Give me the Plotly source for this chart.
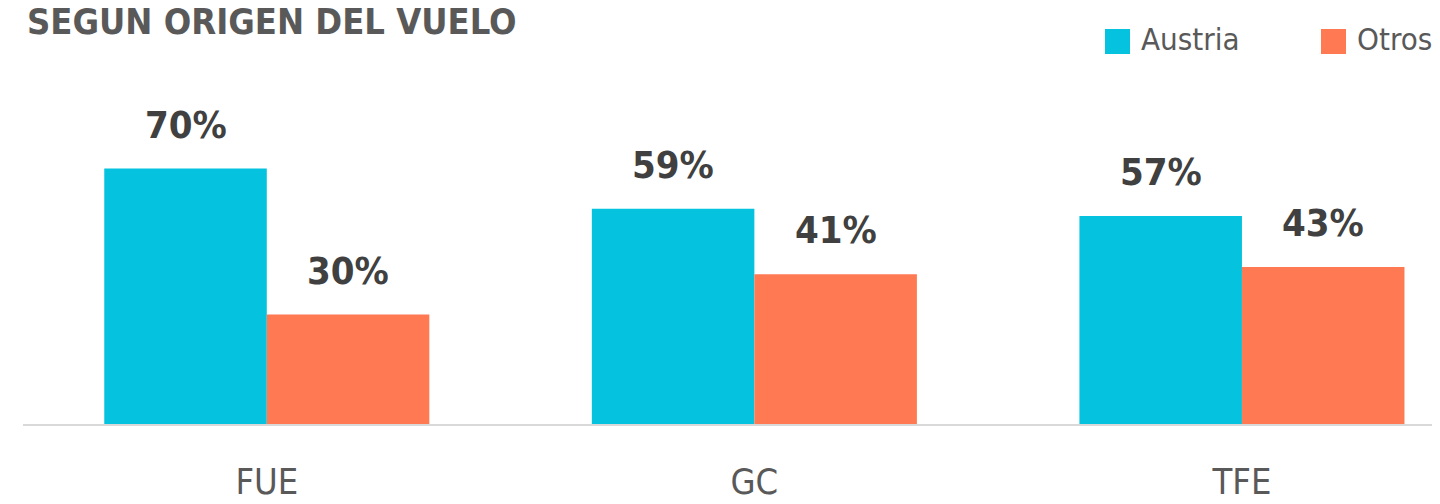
import plotly.graph_objects as go

categories = ["FUE", "GC", "TFE"]
austria = [70, 59, 57]
otros = [30, 41, 43]
series_names = ["Austria", "Otros"]
colors = ["#05C3DE", "#FF7953"]
title_text = "SEGUN ORIGEN DEL VUELO"

FONT = "DejaVu Sans Condensed, Liberation Sans Narrow, sans-serif"

W, H = 1440, 504
L, R, T, B = 15, 0, 40, 88
PW, PH = W - L - R, H - T - B


def px(fx):
    return (fx - L) / PW


def py(fy):
    return (H - B - fy) / PH


fig = go.Figure()
for name, vals, col in zip(series_names, [austria, otros], colors):
    fig.add_trace(go.Bar(x=categories, y=vals, name=name, marker=dict(color=col, line=dict(width=0)),
                         showlegend=False))

# value labels
annotations = []
for j, vals in enumerate([austria, otros]):
    off = -1/6 if j == 0 else 1/6
    for i, v in enumerate(vals):
        annotations.append(dict(x=i + off, y=v, xref="x", yref="y", text=f"{v}%",
                                showarrow=False, yanchor="bottom", yshift=20,
                                font=dict(family=FONT, size=38, color="#404040", weight="bold")))

# title
annotations.append(dict(x=0, y=1, xref="paper", yref="paper", text=title_text, showarrow=False,
                        xanchor="left", yanchor="bottom", xshift=2, yshift=4,
                        font=dict(family=FONT, size=36, color="#595959", weight="bold")))

# manual legend
shapes = []
leg_x = [1097, 1313]
for k, (name, col) in enumerate(zip(series_names, colors)):
    shapes.append(dict(type="rect", xref="paper", yref="paper",
                       x0=px(leg_x[k]), x1=px(leg_x[k] + 25),
                       y0=py(46), y1=py(21),
                       fillcolor=col, line=dict(width=0)))
    annotations.append(dict(x=px(leg_x[k] + 34), y=py(31), xref="paper", yref="paper",
                            text=name, showarrow=False, xanchor="left", yanchor="middle",
                            font=dict(family=FONT, size=31, color="#595959")))

fig.update_layout(
    width=W, height=H,
    margin=dict(l=L, r=R, t=T, b=B, autoexpand=False),
    paper_bgcolor="white", plot_bgcolor="white",
    barmode="group", bargap=1/3, bargroupgap=0,
    annotations=annotations, shapes=shapes,
    xaxis=dict(range=[-0.5, 2.4226], showline=True, linecolor="#D9D9D9", linewidth=2, automargin=False,
               showgrid=False, ticks="", ticklabelstandoff=25,
               tickfont=dict(family=FONT, size=36, color="#595959")),
    yaxis=dict(range=[0, PH / 3.65], visible=False, showgrid=False, zeroline=False, automargin=False),
)

fig.write_html("out.html")
